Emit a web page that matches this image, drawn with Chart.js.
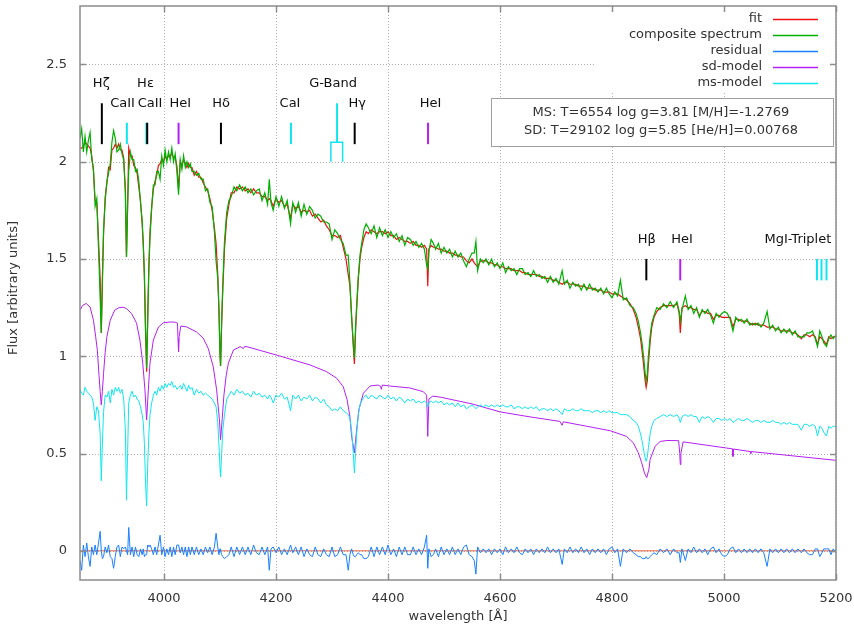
<!DOCTYPE html>
<html>
<head>
<meta charset="utf-8">
<script src="https://cdn.jsdelivr.net/npm/chart.js@4.4.1/dist/chart.umd.min.js"></script>
<style>
  html, body { margin: 0; padding: 0; background: #fff; }
  canvas { display: block; }
</style>
</head>
<body>
<canvas id="myChart" width="854" height="627"></canvas>
<script>
// wavelength grid shared by fit, composite, residual and ms-model [Å]
const wave = [
  3850,3853,3856,3859,3862,3865,3868,3871,3874,3877,3880,3883,3886,3888,3890,3892,3895,3898,3901,3904,3907,3910,3913,3916,3919,3922,3925,3928,3931,3933,3935,3937,
  3940,3943,3946,3949,3952,3955,3958,3961,3963,3965,3967,3969,3971,3973,3975,3978,3981,3984,3987,3990,3993,3996,3999,
  4002,4005,4008,4011,4014,4017,4020,4023,4026,4029,4032,4035,4038,4041,4044,4047,4050,4054,4058,4062,4066,4070,4074,4078,4082,4086,4090,
  4093,4096,4098,4100,4101,4103,4105,4108,4112,4116,4120,4125,4130,4135,4140,4145,4150,4155,4160,4165,4170,4175,4180,4185,4188,
  4191,4195,4200,4205,4210,4215,4220,4226,4230,4235,4240,4245,4250,4255,4260,4265,4270,4275,4280,4285,4290,4295,4300,4305,4310,4315,4320,4325,
  4329,4332,4335,4338,4340,4342,4344,4347,4350,4353,4357,4361,4365,4370,4375,4380,4385,4390,4395,4400,
  4405,4410,4415,4420,4425,4430,4435,4440,4445,4450,4455,4460,4465,4469,4471,4473,4477,4481,4485,4490,4495,4500,4505,
  4510,4515,4520,4525,4530,4535,4540,4545,4550,4554,4557,4560,4565,4570,4575,4580,4585,4590,4595,4600,4605,4610,
  4615,4620,4625,4630,4635,4640,4645,4650,4655,4660,4665,4670,4675,4680,4685,4690,4695,4700,4705,4711,4715,4720,
  4725,4730,4735,4740,4745,4750,4755,4760,4765,4770,4775,4780,4785,4790,4795,4800,4805,4810,4815,4820,4826,
  4832,4838,4843,4847,4851,4854,4857,4859,4861,4863,4865,4868,4871,4875,4880,4886,4892,4898,4904,4910,4916,
  4920,4922,4925,4931,4936,4941,4946,4951,4956,4961,4966,4971,4976,4981,4986,4991,4996,5001,5006,5011,
  5016,5021,5026,5031,5036,5041,5046,5051,5056,5061,5066,5071,5077,5082,5087,5092,5097,5102,5107,
  5112,5117,5122,5127,5132,5138,5143,5148,5153,5158,5163,5167,5171,5175,5178,5183,5187,5191,5195,5200
];

const fitFlux = [
  2.07,2.07,2.08,2.10,2.09,2.08,2.07,2.03,1.95,1.80,1.79,1.60,1.40,1.12,1.37,1.62,1.82,1.89,1.97,1.96,2.06,2.07,2.09,2.07,2.09,2.06,2.06,2.02,1.86,1.51,1.76,2.07,
  2.03,2.03,1.98,1.97,1.94,1.87,1.80,1.68,1.58,1.40,1.13,0.92,1.22,1.47,1.64,1.77,1.86,1.90,1.93,1.98,1.99,2.01,2.00,
  2.03,2.01,2.03,2.03,2.04,2.02,2.02,1.98,1.86,2.00,1.98,2.01,1.99,1.97,1.99,1.97,1.97,1.93,1.95,1.92,1.92,1.89,1.87,1.85,1.81,1.75,1.66,
  1.58,1.42,1.24,1.02,0.95,1.17,1.34,1.55,1.71,1.78,1.84,1.84,1.87,1.86,1.87,1.85,1.86,1.84,1.86,1.84,1.84,1.82,1.82,1.80,1.81,
  1.80,1.77,1.81,1.79,1.80,1.77,1.78,1.71,1.78,1.76,1.77,1.74,1.75,1.74,1.75,1.72,1.73,1.71,1.69,1.70,1.67,1.65,1.62,1.62,1.61,1.62,1.56,1.50,
  1.42,1.36,1.21,1.05,0.96,1.12,1.24,1.40,1.50,1.56,1.61,1.64,1.63,1.65,1.64,1.63,1.64,1.64,1.63,1.64,
  1.62,1.62,1.60,1.61,1.60,1.59,1.59,1.58,1.59,1.57,1.57,1.56,1.57,1.55,1.36,1.55,1.57,1.56,1.56,1.55,1.55,1.54,1.54,
  1.53,1.53,1.52,1.52,1.51,1.51,1.49,1.48,1.50,1.48,1.47,1.46,1.49,1.49,1.49,1.48,1.48,1.47,1.47,1.46,1.46,1.45,
  1.45,1.45,1.44,1.44,1.44,1.43,1.43,1.42,1.42,1.42,1.42,1.41,1.41,1.40,1.40,1.40,1.39,1.39,1.38,1.37,1.38,1.38,
  1.37,1.37,1.37,1.36,1.36,1.36,1.35,1.35,1.35,1.34,1.34,1.34,1.33,1.33,1.33,1.32,1.32,1.32,1.31,1.30,1.29,
  1.27,1.24,1.20,1.15,1.09,1.02,0.94,0.88,0.84,0.87,0.96,1.07,1.15,1.20,1.23,1.25,1.26,1.26,1.26,1.26,1.27,
  1.22,1.12,1.25,1.26,1.25,1.25,1.24,1.24,1.21,1.23,1.23,1.22,1.22,1.19,1.21,1.21,1.20,1.20,1.20,1.20,
  1.15,1.19,1.19,1.18,1.18,1.18,1.17,1.16,1.17,1.16,1.16,1.16,1.15,1.15,1.15,1.14,1.14,1.13,1.13,
  1.13,1.13,1.12,1.12,1.11,1.09,1.11,1.11,1.10,1.11,1.10,1.06,1.10,1.09,1.08,1.06,1.10,1.09,1.10,1.10
];

const compositeFlux = [
  2.12,2.17,2.05,2.13,2.05,2.11,2.15,2.01,1.97,1.77,1.81,1.56,1.30,1.12,1.41,1.65,1.80,1.90,1.94,1.99,2.10,2.16,2.12,2.05,2.06,2.09,2.04,2.01,1.84,1.51,1.78,1.95,
  2.05,2.01,2.01,1.95,1.96,1.90,1.79,1.70,1.57,1.43,1.15,0.94,1.19,1.45,1.61,1.76,1.88,1.88,1.95,1.95,1.91,2.03,1.98,
  2.06,2.00,2.05,2.01,2.07,2.00,2.04,1.95,1.83,2.01,1.96,2.03,1.97,2.00,1.97,1.99,1.95,1.95,1.93,1.94,1.91,1.91,1.85,1.86,1.79,1.77,1.64,
  1.49,1.40,1.26,1.01,0.95,1.19,1.37,1.59,1.74,1.80,1.82,1.87,1.85,1.88,1.85,1.87,1.84,1.86,1.83,1.85,1.86,1.80,1.84,1.78,1.91,
  1.79,1.75,1.82,1.77,1.82,1.76,1.80,1.68,1.79,1.74,1.79,1.72,1.78,1.73,1.77,1.75,1.71,1.73,1.72,1.69,1.69,1.68,1.60,1.65,1.63,1.60,1.58,1.52,
  1.52,1.38,1.20,1.07,0.99,1.15,1.26,1.41,1.52,1.58,1.65,1.68,1.66,1.63,1.67,1.61,1.66,1.62,1.65,1.61,
  1.64,1.61,1.63,1.59,1.62,1.57,1.61,1.60,1.57,1.59,1.56,1.58,1.55,1.47,1.45,1.54,1.60,1.58,1.55,1.58,1.53,1.56,1.53,
  1.55,1.51,1.54,1.51,1.53,1.49,1.46,1.50,1.53,1.53,1.59,1.44,1.50,1.48,1.50,1.47,1.50,1.46,1.48,1.45,1.48,1.43,
  1.46,1.44,1.45,1.42,1.45,1.45,1.42,1.43,1.41,1.44,1.41,1.42,1.40,1.41,1.38,1.41,1.38,1.40,1.37,1.44,1.37,1.39,
  1.35,1.38,1.36,1.37,1.34,1.37,1.34,1.37,1.34,1.35,1.33,1.35,1.32,1.35,1.32,1.30,1.33,1.31,1.39,1.29,1.30,
  1.26,1.25,1.22,1.18,1.12,1.06,0.98,0.92,0.87,0.91,1.00,1.10,1.17,1.21,1.25,1.24,1.27,1.25,1.28,1.25,1.28,
  1.23,1.18,1.24,1.31,1.24,1.26,1.22,1.25,1.20,1.24,1.22,1.24,1.21,1.17,1.22,1.20,1.22,1.23,1.22,1.19,
  1.13,1.20,1.18,1.19,1.17,1.19,1.16,1.17,1.16,1.17,1.15,1.17,1.23,1.14,1.16,1.13,1.15,1.12,1.14,
  1.12,1.14,1.11,1.13,1.10,1.10,1.10,1.12,1.12,1.13,1.09,1.05,1.13,1.10,1.07,1.05,1.09,1.11,1.09,1.11
];

const residual = [
  -0.05,-0.10,0.03,-0.03,0.04,-0.03,-0.08,0.02,-0.02,0.03,-0.02,0.04,0.10,0.00,-0.04,-0.03,0.02,-0.01,0.03,-0.03,-0.04,-0.09,-0.03,0.02,0.03,-0.03,0.02,0.01,0.02,0.00,-0.02,0.12,
  -0.02,0.02,-0.03,0.02,-0.02,-0.03,0.01,-0.02,0.01,-0.03,-0.02,-0.02,0.03,0.02,0.03,0.01,-0.02,0.02,-0.02,0.03,0.08,-0.02,0.02,
  -0.03,0.01,-0.02,0.02,-0.03,0.02,-0.02,0.03,0.03,-0.01,0.02,-0.02,0.02,-0.03,0.02,-0.02,0.02,-0.02,0.02,-0.02,0.01,-0.02,0.02,-0.01,0.02,-0.02,0.02,
  0.09,0.02,-0.02,0.01,0.00,-0.02,-0.03,-0.04,-0.03,-0.02,0.02,-0.03,0.02,-0.02,0.02,-0.02,0.02,-0.02,0.03,-0.01,-0.02,0.02,-0.02,0.02,-0.10,
  0.01,0.02,-0.01,0.02,-0.02,0.01,-0.02,0.03,-0.01,0.02,-0.02,0.02,-0.03,0.01,-0.02,-0.03,0.02,-0.02,-0.03,0.01,-0.02,-0.03,0.02,-0.03,-0.02,0.02,-0.02,-0.02,
  -0.10,-0.02,0.01,-0.02,-0.03,-0.03,-0.02,-0.01,-0.02,-0.02,-0.04,-0.04,-0.03,0.02,-0.03,0.02,-0.02,0.02,-0.02,0.03,
  -0.02,0.01,-0.03,0.02,-0.02,0.02,-0.02,-0.02,0.02,-0.02,0.01,-0.02,0.02,0.08,-0.09,0.01,-0.03,-0.02,0.01,-0.03,0.02,-0.02,0.01,
  -0.02,0.02,-0.02,0.01,-0.02,0.02,0.03,-0.02,-0.03,-0.05,-0.12,0.02,-0.01,0.01,-0.01,0.01,-0.02,0.01,-0.01,0.01,-0.02,0.02,
  -0.01,0.01,-0.01,0.02,-0.01,-0.02,0.01,-0.01,0.01,-0.02,0.01,-0.01,0.01,-0.01,0.02,-0.01,0.01,-0.01,0.01,-0.07,0.01,-0.01,
  0.02,-0.01,0.01,-0.01,0.02,-0.01,0.01,-0.02,0.01,-0.01,0.01,-0.01,0.01,-0.02,0.01,0.02,-0.01,0.01,-0.08,0.01,-0.01,
  0.01,-0.01,-0.02,-0.03,-0.03,-0.04,-0.04,-0.04,-0.03,-0.04,-0.04,-0.03,-0.02,-0.01,-0.02,0.01,-0.01,0.01,-0.02,0.01,-0.01,
  -0.01,-0.06,0.01,-0.05,0.01,-0.01,0.02,-0.01,0.01,-0.01,0.01,-0.02,0.01,0.02,-0.01,0.01,-0.02,-0.03,-0.02,0.01,
  0.02,-0.01,0.01,-0.01,0.01,-0.01,0.01,-0.01,0.01,-0.01,0.01,-0.01,-0.08,0.01,-0.01,0.01,-0.01,0.01,-0.01,
  0.01,-0.01,0.01,-0.01,0.01,-0.01,0.01,-0.01,-0.02,-0.02,0.01,0.01,-0.03,-0.01,0.01,0.01,0.01,-0.02,0.01,-0.01
];

const msModel = [
  0.83,0.81,0.80,0.84,0.82,0.81,0.80,0.79,0.76,0.67,0.74,0.72,0.60,0.36,0.55,0.71,0.80,0.79,0.82,0.76,0.83,0.80,0.84,0.82,0.84,0.81,0.83,0.78,0.62,0.26,0.50,0.76,
  0.80,0.82,0.79,0.80,0.78,0.77,0.74,0.70,0.66,0.55,0.35,0.23,0.45,0.60,0.70,0.76,0.80,0.82,0.80,0.84,0.82,0.85,0.83,
  0.86,0.84,0.86,0.85,0.87,0.84,0.85,0.83,0.84,0.85,0.83,0.86,0.84,0.82,0.85,0.83,0.84,0.80,0.83,0.81,0.82,0.80,0.81,0.80,0.79,0.78,0.76,
  0.74,0.66,0.55,0.42,0.38,0.50,0.62,0.70,0.78,0.80,0.82,0.80,0.83,0.81,0.82,0.80,0.81,0.79,0.82,0.80,0.81,0.79,0.80,0.78,0.80,
  0.79,0.76,0.80,0.79,0.81,0.78,0.79,0.72,0.80,0.78,0.80,0.77,0.79,0.78,0.80,0.77,0.79,0.78,0.76,0.78,0.75,0.74,0.72,0.73,0.72,0.74,0.72,0.71,
  0.70,0.68,0.62,0.50,0.40,0.50,0.60,0.70,0.75,0.77,0.79,0.80,0.78,0.80,0.79,0.78,0.80,0.79,0.78,0.80,
  0.78,0.79,0.77,0.79,0.78,0.76,0.78,0.77,0.78,0.76,0.77,0.76,0.77,0.76,0.74,0.76,0.77,0.76,0.77,0.76,0.77,0.75,0.76,
  0.75,0.76,0.74,0.76,0.74,0.75,0.73,0.74,0.75,0.74,0.73,0.74,0.75,0.74,0.75,0.74,0.75,0.74,0.75,0.74,0.75,0.74,
  0.74,0.75,0.73,0.74,0.74,0.73,0.74,0.73,0.74,0.73,0.74,0.72,0.73,0.73,0.72,0.73,0.72,0.73,0.72,0.70,0.73,0.72,
  0.72,0.73,0.72,0.72,0.73,0.72,0.72,0.72,0.71,0.72,0.72,0.71,0.72,0.71,0.72,0.71,0.71,0.71,0.70,0.70,0.70,
  0.69,0.67,0.66,0.64,0.60,0.56,0.51,0.48,0.46,0.48,0.53,0.60,0.64,0.67,0.68,0.69,0.70,0.69,0.70,0.69,0.70,
  0.68,0.66,0.69,0.70,0.69,0.70,0.69,0.69,0.66,0.69,0.68,0.69,0.68,0.66,0.68,0.68,0.67,0.68,0.67,0.68,
  0.66,0.67,0.68,0.67,0.67,0.68,0.67,0.66,0.67,0.67,0.66,0.67,0.66,0.66,0.67,0.66,0.66,0.65,0.66,
  0.65,0.66,0.65,0.65,0.65,0.62,0.65,0.65,0.64,0.65,0.64,0.59,0.64,0.63,0.61,0.59,0.64,0.63,0.64,0.64
];

// the sd-model is smooth, so it gets its own sparser grid
const sdWave = [
  3850,3855,3861,3868,3874,3878,3881,3884,3886,3888,3890,3892,3895,3898,3904,3912,3920,3927,3933,3942,
  3951,3957,3962,3966,3969,3972,3975,3981,3990,3999,4011,4020,4024,4025,4026,4027,4030,4040,4058,4070,
  4079,4088,4094,4099,4101,4104,4107,4111,4115,4124,4136,4142,4144,4148,4201,4261,4290,4308,4320,4327,
  4332,4335,4340,4344,4348,4356,4368,4382,4387,4388,4390,4400,4439,4463,4469,4471,4473,4480,4493,4550,
  4600,4650,4707,4711,4713,4797,4826,4838,4847,4853,4858,4862,4866,4868,4877,4886,4898,4919,4921,4922,
  4923,4927,5005,5015,5016,5017,5047,5048,5049,5200
];
const sdModel = [
  1.237,1.262,1.271,1.253,1.185,1.10,1.03,0.90,0.82,0.75,0.82,0.91,1.02,1.10,1.185,1.237,1.25,1.252,1.245,1.22,
  1.17,1.083,0.965,0.827,0.673,0.827,0.965,1.083,1.15,1.172,1.176,1.175,1.17,1.09,1.023,1.10,1.155,1.151,1.125,1.093,
  1.04,0.946,0.827,0.673,0.571,0.68,0.80,0.90,0.965,1.032,1.049,1.04,1.05,1.049,1.006,0.955,0.921,0.888,0.844,0.776,
  0.69,0.588,0.504,0.622,0.725,0.81,0.847,0.852,0.845,0.83,0.852,0.848,0.837,0.818,0.80,0.588,0.78,0.795,0.79,0.755,
  0.714,0.69,0.665,0.645,0.663,0.617,0.588,0.555,0.504,0.453,0.40,0.376,0.42,0.469,0.537,0.562,0.567,0.566,0.50,0.443,
  0.50,0.56,0.528,0.524,0.485,0.523,0.51,0.50,0.51,0.465
];

const zeroWave = [3850, 5200];
const zeroLine = [0, 0];

const xTicks = [4000, 4200, 4400, 4600, 4800, 5000, 5200];
const yTicks = [0, 0.5, 1, 1.5, 2, 2.5];

// line identifications: label text, label position, label height
const lineLabels = ["Hζ", "CaII", "Hε", "CaII", "HeI", "Hδ", "CaI", "G-Band", "Hγ", "HeI", "Hβ", "HeI", "MgI-Triplet"];
const labelWave = [3888, 3926, 3967, 3975, 4029, 4102, 4225, 4302, 4345, 4476, 4862, 4925, 5132];
const labelLevel = [2.4, 2.3, 2.4, 2.3, 2.3, 2.3, 2.3, 2.4, 2.3, 2.3, 1.6, 1.6, 1.6];

// marker bars under the labels
const markWave = [3889, 3933.7, 3968.5, 3970, 4026, 4101.7, 4226.7, 4309, 4340.5, 4471.5, 4861.3, 4921.9, 5166, 5174, 5183];
const markTop = [2.30, 2.20, 2.20, 2.20, 2.20, 2.20, 2.20, 2.30, 2.20, 2.20, 1.50, 1.50, 1.50, 1.50, 1.50];
const markBottom = [2.09, 2.09, 2.09, 2.09, 2.09, 2.09, 2.09, 2.10, 2.09, 2.09, 1.39, 1.39, 1.39, 1.39, 1.39];
const markKind = ["h", "ms", "ms", "h", "sd", "h", "ms", "ms", "h", "sd", "h", "sd", "ms", "ms", "ms"];
const gBand = [4298, 4319];
const gBandLevel = [2.10, 2.0];

const fitText = [
    "MS: T=6554 log g=3.81 [M/H]=-1.2769",
    "SD: T=29102 log g=5.85 [He/H]=0.00768",
];

const colors = {
    fit: "#ee1111",
    composite: "#00b000",
    residual: "#1a80ff",
    sd: "#b420f0",
    ms: "#10e6f0",
    zero: "#e4603c",
    h: "#000000",
};

const keyLabels = ["fit", "composite spectrum", "residual", "sd-model", "ms-model"];
const keyColors = [colors.fit, colors.composite, colors.residual, colors.sd, colors.ms];

const FONT = "13px 'DejaVu Sans'";
const TEXT = "#333333";

function series(label, xs, ys, color, order, width) {
    return {
        label: label,
        data: xs.map((v, i) => ({ x: v, y: ys[i] })),
        borderColor: color,
        backgroundColor: color,
        borderWidth: width || 1,
        pointRadius: 0,
        tension: 0,
        order: order,
    };
}

const data = {
    datasets: [
        series(keyLabels[0], wave, fitFlux, colors.fit, 6, 1.2),
        series(keyLabels[1], wave, compositeFlux, colors.composite, 5, 1.2),
        series(keyLabels[2], wave, residual, colors.residual, 3),
        series(keyLabels[3], sdWave, sdModel, colors.sd, 2),
        series(keyLabels[4], wave, msModel, colors.ms, 1),
        series("zero", zeroWave, zeroLine, colors.zero, 4),
    ],
};

const gnuplotLook = {
    id: "gnuplotLook",
    beforeDatasetsDraw(chart) {
        const { ctx, chartArea: a, scales } = chart;
        ctx.save();
        ctx.strokeStyle = "#b0b0b0";
        ctx.lineWidth = 1;
        ctx.setLineDash([1, 2]);
        ctx.beginPath();
        xTicks.forEach((v) => {
            const px = Math.round(scales.x.getPixelForValue(v)) + 0.5;
            ctx.moveTo(px, a.top);
            ctx.lineTo(px, a.bottom);
        });
        yTicks.forEach((v) => {
            const py = Math.round(scales.y.getPixelForValue(v)) + 0.5;
            ctx.moveTo(a.left, py);
            ctx.lineTo(a.right, py);
        });
        ctx.stroke();
        ctx.restore();
    },
    afterDatasetsDraw(chart) {
        const { ctx, chartArea: a, scales } = chart;
        const X = (v) => scales.x.getPixelForValue(v);
        const Y = (v) => scales.y.getPixelForValue(v);
        ctx.save();
        ctx.font = FONT;
        ctx.textBaseline = "middle";

        // line labels
        ctx.fillStyle = "#111";
        ctx.textAlign = "center";
        lineLabels.forEach((t, i) => ctx.fillText(t, X(labelWave[i]), Y(labelLevel[i])));

        // marker bars
        ctx.lineWidth = 2;
        markWave.forEach((w, i) => {
            ctx.strokeStyle = colors[markKind[i]];
            ctx.beginPath();
            ctx.moveTo(X(w), Y(markTop[i]));
            ctx.lineTo(X(w), Y(markBottom[i]));
            ctx.stroke();
        });
        // G-band bracket
        ctx.strokeStyle = colors.ms;
        ctx.lineWidth = 1.5;
        ctx.beginPath();
        ctx.moveTo(X(gBand[0]), Y(gBandLevel[1]));
        ctx.lineTo(X(gBand[0]), Y(gBandLevel[0]));
        ctx.lineTo(X(gBand[1]), Y(gBandLevel[0]));
        ctx.lineTo(X(gBand[1]), Y(gBandLevel[1]));
        ctx.stroke();

        // key
        ctx.fillStyle = "#fff";
        ctx.fillRect(595, a.top + 1, a.right - 596, 84);
        ctx.textAlign = "right";
        keyLabels.forEach((t, i) => {
            const yy = 18.5 + i * 16;
            ctx.fillStyle = TEXT;
            ctx.fillText(t, 762, yy);
            ctx.strokeStyle = keyColors[i];
            ctx.lineWidth = 1.3;
            ctx.beginPath();
            ctx.moveTo(773, Math.round(yy) + 0.5);
            ctx.lineTo(818, Math.round(yy) + 0.5);
            ctx.stroke();
        });

        // parameter box
        ctx.fillStyle = "#fff";
        ctx.fillRect(491, 98, 342, 48);
        ctx.strokeStyle = "#a0a0a0";
        ctx.lineWidth = 1;
        ctx.strokeRect(491.5, 98.5, 342, 48);
        ctx.fillStyle = TEXT;
        ctx.textAlign = "center";
        ctx.fillText(fitText[0], 661, 113);
        ctx.fillText(fitText[1], 661, 131);

        // frame and inward ticks
        ctx.strokeStyle = "#8c8c8c";
        ctx.lineWidth = 1.5;
        ctx.strokeRect(a.left, a.top, a.right - a.left, a.bottom - a.top);
        ctx.beginPath();
        xTicks.forEach((v) => {
            const px = Math.round(X(v)) + 0.5;
            ctx.moveTo(px, a.bottom); ctx.lineTo(px, a.bottom - 6);
            ctx.moveTo(px, a.top); ctx.lineTo(px, a.top + 6);
        });
        yTicks.forEach((v) => {
            const py = Math.round(Y(v)) + 0.5;
            ctx.moveTo(a.left, py); ctx.lineTo(a.left + 6, py);
            ctx.moveTo(a.right, py); ctx.lineTo(a.right - 6, py);
        });
        ctx.stroke();

        // axis titles
        ctx.fillStyle = TEXT;
        ctx.textAlign = "center";
        ctx.fillText("wavelength [Å]", (a.left + a.right) / 2, 617);
        ctx.translate(14, 288);
        ctx.rotate(-Math.PI / 2);
        ctx.fillText("Flux [arbitrary units]", 0, 0);
        ctx.restore();
    },
};

Chart.defaults.font.family = "'DejaVu Sans'";
Chart.defaults.font.size = 13;
Chart.defaults.color = TEXT;

const config = {
    type: "line",
    data: data,
    options: {
        responsive: false,
        animation: false,
        devicePixelRatio: 1,
        layout: { padding: { top: 6, right: 18, left: 0, bottom: 0 } },
        plugins: { legend: { display: false }, tooltip: { enabled: false } },
        scales: {
            x: {
                type: "linear",
                min: 3850,
                max: 5200,
                grid: { display: false },
                border: { display: false },
                afterBuildTicks: (s) => { s.ticks = xTicks.map((v) => ({ value: v })); },
                afterFit: (s) => {
                    s.height = 47;
                    s.paddingLeft = 0;
                    s.paddingRight = 0;
                },
                ticks: { padding: 3, maxRotation: 0, callback: (v) => String(v) },
            },
            y: {
                type: "linear",
                min: -0.15,
                max: 2.8,
                grid: { display: false },
                border: { display: false },
                afterBuildTicks: (s) => { s.ticks = yTicks.map((v) => ({ value: v })); },
                afterFit: (s) => {
                    s.width = 80;
                    s.paddingTop = 0;
                    s.paddingBottom = 0;
                },
                ticks: { padding: 5, callback: (v) => String(v) },
            },
        },
    },
    plugins: [gnuplotLook],
};

const myChart = new Chart(document.getElementById("myChart"), config);
</script>
</body>
</html>
